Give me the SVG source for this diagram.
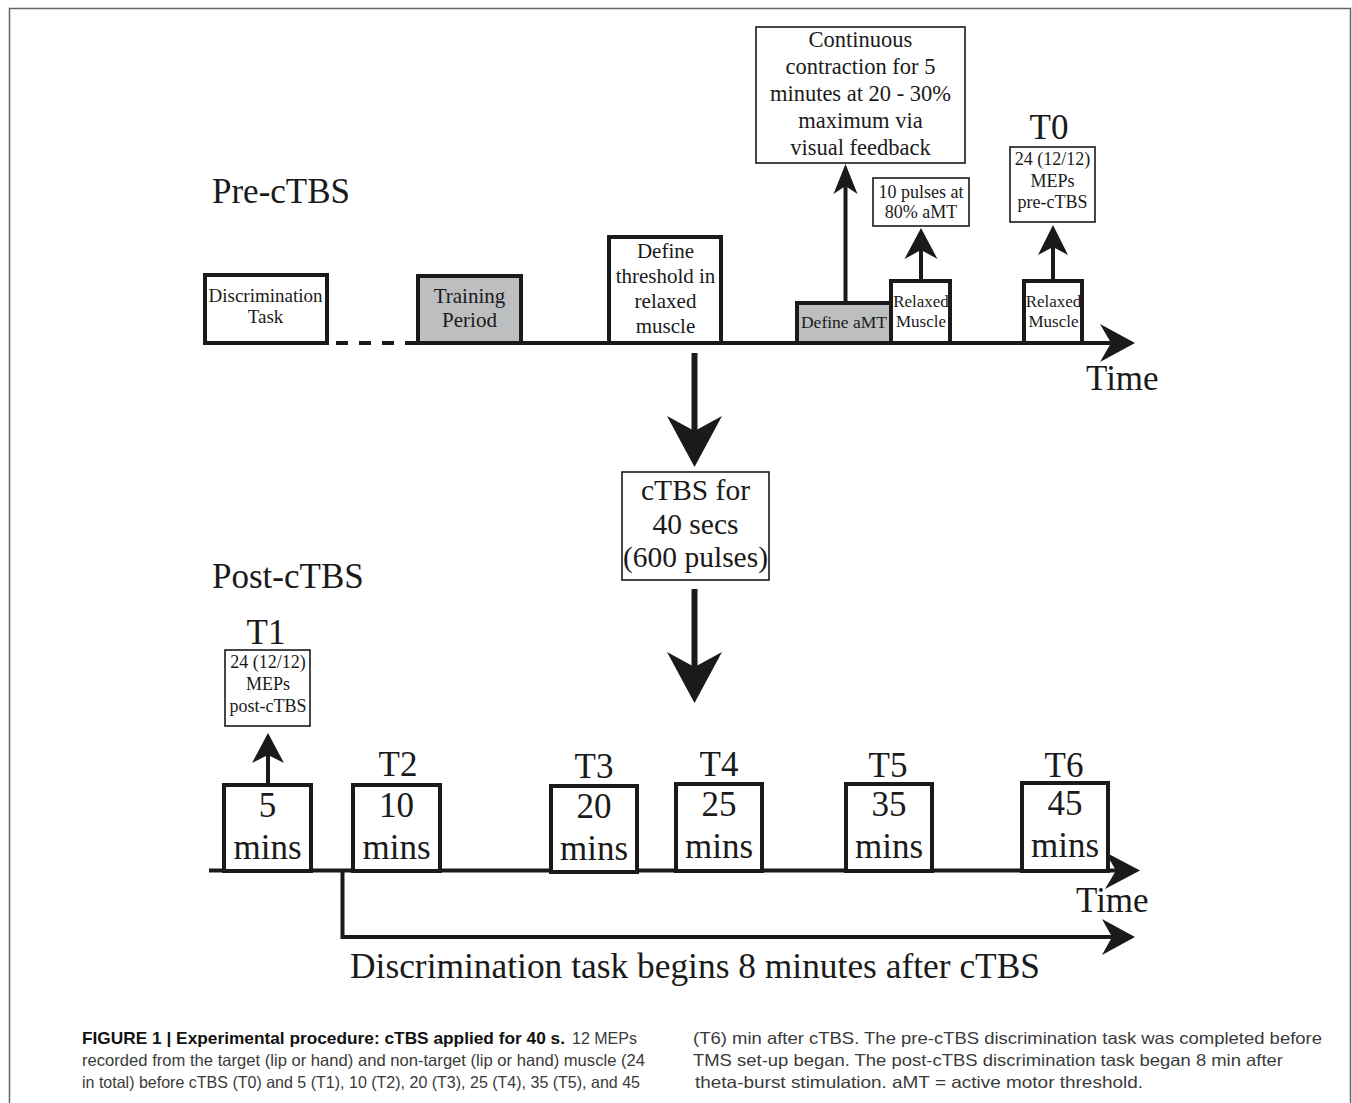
<svg xmlns="http://www.w3.org/2000/svg" width="1352" height="1103" viewBox="0 0 1352 1103">
<style>
.t{font-family:"Liberation Serif","Times New Roman",serif;fill:#1a1a1a}
.m{text-anchor:middle}
.big{font-size:35px}
.box{fill:#fff;stroke:#1a1a1a;stroke-width:4}
.gbox{fill:#bdbec0;stroke:#1a1a1a;stroke-width:4}
.thin{fill:#fff;stroke:#1a1a1a;stroke-width:1.6}
.ln{stroke:#1a1a1a;stroke-width:4;fill:none}
.hd{fill:#1a1a1a}
.cap{font-family:"Liberation Sans",Arial,sans-serif;font-size:16.5px;fill:#3a3a3a}
.capb{font-family:"Liberation Sans",Arial,sans-serif;font-size:16.5px;font-weight:bold;fill:#111}
</style>
<rect width="1352" height="1103" fill="#fff"/>
<path d="M9.5,1103 V8.5 H1350.5 V1103" fill="none" stroke="#666" stroke-width="1.5"/>

<text class="t big" x="212" y="203">Pre-cTBS</text>
<text class="t big" x="212" y="588">Post-cTBS</text>

<g id="connectors">
  <line class="ln" x1="336" y1="343" x2="418" y2="343" stroke-dasharray="12 11"/>
  <line class="ln" x1="418" y1="343" x2="1112" y2="343"/>
  <polygon class="hd" points="1135,343 1100,324 1111,343 1100,362"/>
  <line class="ln" x1="845.5" y1="303" x2="845.5" y2="185"/>
  <polygon class="hd" points="845.5,164 857.5,194 845.5,186 833.5,194"/>
  <line class="ln" x1="921" y1="281" x2="921" y2="248"/>
  <polygon class="hd" points="921,228 937.5,259 921,250 904.5,259"/>
  <line class="ln" x1="1053" y1="281" x2="1053" y2="245"/>
  <polygon class="hd" points="1053,225 1068,255 1053,247 1038,255"/>
  <line x1="694.5" y1="353" x2="694.5" y2="432" stroke="#1a1a1a" stroke-width="6"/>
  <polygon class="hd" points="694.5,467 667,416 694.5,431 722,416"/>
  <line x1="694.5" y1="589" x2="694.5" y2="668" stroke="#1a1a1a" stroke-width="6"/>
  <polygon class="hd" points="694.5,703 667,652 694.5,667 722,652"/>
  <line class="ln" x1="268" y1="784" x2="268" y2="753"/>
  <polygon class="hd" points="268,733 284,763 268,755 252,763"/>
  <line class="ln" x1="209" y1="870.5" x2="1116" y2="870.5"/>
  <polygon class="hd" points="1140,870.5 1105,852 1116,870.5 1105,889"/>
  <path class="ln" d="M342.5,870 V937 H1112"/>
  <polygon class="hd" points="1135,937 1102,919 1112,937 1102,955"/>
</g>

<g id="disc-task">
  <rect class="box" x="205" y="275" width="122" height="68"/>
  <text class="t m" x="265.5" y="301.5" font-size="19">Discrimination</text>
  <text class="t m" x="265.5" y="323" font-size="19">Task</text>
</g>
<g id="training">
  <rect class="gbox" x="418" y="276" width="103" height="67"/>
  <text class="t m" x="469.5" y="303" font-size="21" fill="#333">Training</text>
  <text class="t m" x="469.5" y="327" font-size="21" fill="#333">Period</text>
</g>
<g id="define-threshold">
  <rect class="box" x="609" y="237" width="112" height="106"/>
  <text class="t m" x="665.5" y="258" font-size="21">Define</text>
  <text class="t m" x="665.5" y="283" font-size="21">threshold in</text>
  <text class="t m" x="665.5" y="308" font-size="21">relaxed</text>
  <text class="t m" x="665.5" y="333" font-size="21">muscle</text>
</g>
<g id="define-amt">
  <rect class="gbox" x="797" y="303" width="94" height="40"/>
  <text class="t m" x="844" y="328" font-size="17.5" fill="#2a2a2a">Define aMT</text>
</g>
<g id="relaxed-1">
  <rect class="box" x="891" y="281" width="59" height="62"/>
  <text class="t m" x="921" y="307" font-size="17">Relaxed</text>
  <text class="t m" x="921" y="327" font-size="17">Muscle</text>
</g>
<g id="relaxed-2">
  <rect class="box" x="1024" y="281" width="58" height="62"/>
  <text class="t m" x="1053.5" y="307" font-size="17">Relaxed</text>
  <text class="t m" x="1053.5" y="327" font-size="17">Muscle</text>
</g>
<g id="contraction">
  <rect class="thin" x="756" y="27" width="209" height="136"/>
  <text class="t m" x="860.5" y="47" font-size="22.5">Continuous</text>
  <text class="t m" x="860.5" y="74" font-size="22.5">contraction for 5</text>
  <text class="t m" x="860.5" y="101" font-size="22.5">minutes at 20 - 30%</text>
  <text class="t m" x="860.5" y="128" font-size="22.5">maximum via</text>
  <text class="t m" x="860.5" y="155" font-size="22.5">visual feedback</text>
</g>
<g id="pulses">
  <rect class="thin" x="873" y="178" width="96" height="48"/>
  <text class="t m" x="921" y="197.5" font-size="18">10 pulses at</text>
  <text class="t m" x="921" y="218" font-size="18">80% aMT</text>
</g>
<g id="t0">
  <text class="t m big" x="1049" y="139">T0</text>
  <rect class="thin" x="1010" y="147" width="85" height="75"/>
  <text class="t m" x="1052.5" y="165" font-size="18">24 (12/12)</text>
  <text class="t m" x="1052.5" y="186.5" font-size="18">MEPs</text>
  <text class="t m" x="1052.5" y="208" font-size="18">pre-cTBS</text>
</g>
<text class="t big" x="1086" y="390">Time</text>

<g id="ctbs">
  <rect class="thin" x="622" y="472" width="147" height="108"/>
  <text class="t m" x="695.5" y="500" font-size="29.5">cTBS for</text>
  <text class="t m" x="695.5" y="534" font-size="29.5">40 secs</text>
  <text class="t m" x="695.5" y="567" font-size="29.5">(600 pulses)</text>
</g>

<g id="t1">
  <text class="t m big" x="266" y="644">T1</text>
  <rect class="thin" x="225" y="650" width="85" height="76"/>
  <text class="t m" x="268" y="668" font-size="18">24 (12/12)</text>
  <text class="t m" x="268" y="690" font-size="18">MEPs</text>
  <text class="t m" x="268" y="712" font-size="18">post-cTBS</text>
  <rect class="box" x="224" y="785" width="87" height="86"/>
  <text class="t m big" x="267.5" y="817">5</text>
  <text class="t m big" x="267.5" y="859">mins</text>
</g>
<g id="t2">
  <text class="t m big" x="398" y="776">T2</text>
  <rect class="box" x="353" y="785" width="87" height="86"/>
  <text class="t m big" x="396.5" y="817">10</text>
  <text class="t m big" x="396.5" y="859">mins</text>
</g>
<g id="t3">
  <text class="t m big" x="594" y="778">T3</text>
  <rect class="box" x="551" y="786" width="86" height="86"/>
  <text class="t m big" x="594" y="818">20</text>
  <text class="t m big" x="594" y="860">mins</text>
</g>
<g id="t4">
  <text class="t m big" x="719" y="776">T4</text>
  <rect class="box" x="676" y="784" width="86" height="87"/>
  <text class="t m big" x="719" y="816">25</text>
  <text class="t m big" x="719" y="858">mins</text>
</g>
<g id="t5">
  <text class="t m big" x="888" y="777">T5</text>
  <rect class="box" x="846" y="784" width="86" height="87"/>
  <text class="t m big" x="889" y="816">35</text>
  <text class="t m big" x="889" y="858">mins</text>
</g>
<g id="t6">
  <text class="t m big" x="1064" y="777">T6</text>
  <rect class="box" x="1022" y="783" width="86" height="88"/>
  <text class="t m big" x="1065" y="815">45</text>
  <text class="t m big" x="1065" y="857">mins</text>
</g>
<text class="t big" x="1076" y="912">Time</text>
<text class="t big" x="350" y="978" textLength="690" lengthAdjust="spacingAndGlyphs">Discrimination task begins 8 minutes after cTBS</text>

<g id="caption">
  <text class="capb" x="82" y="1044" textLength="483" lengthAdjust="spacingAndGlyphs">FIGURE 1 | Experimental procedure: cTBS applied for 40 s.</text>
  <text class="cap" x="572" y="1044" textLength="65" lengthAdjust="spacingAndGlyphs">12 MEPs</text>
  <text class="cap" x="82" y="1066" textLength="563" lengthAdjust="spacingAndGlyphs">recorded from the target (lip or hand) and non-target (lip or hand) muscle (24</text>
  <text class="cap" x="82" y="1088" textLength="558" lengthAdjust="spacingAndGlyphs">in total) before cTBS (T0) and 5 (T1), 10 (T2), 20 (T3), 25 (T4), 35 (T5), and 45</text>
  <text class="cap" x="693" y="1044" textLength="629" lengthAdjust="spacingAndGlyphs">(T6) min after cTBS. The pre-cTBS discrimination task was completed before</text>
  <text class="cap" x="693" y="1066" textLength="590" lengthAdjust="spacingAndGlyphs">TMS set-up began. The post-cTBS discrimination task began 8 min after</text>
  <text class="cap" x="695" y="1088" textLength="448" lengthAdjust="spacingAndGlyphs">theta-burst stimulation. aMT = active motor threshold.</text>
</g>
</svg>
